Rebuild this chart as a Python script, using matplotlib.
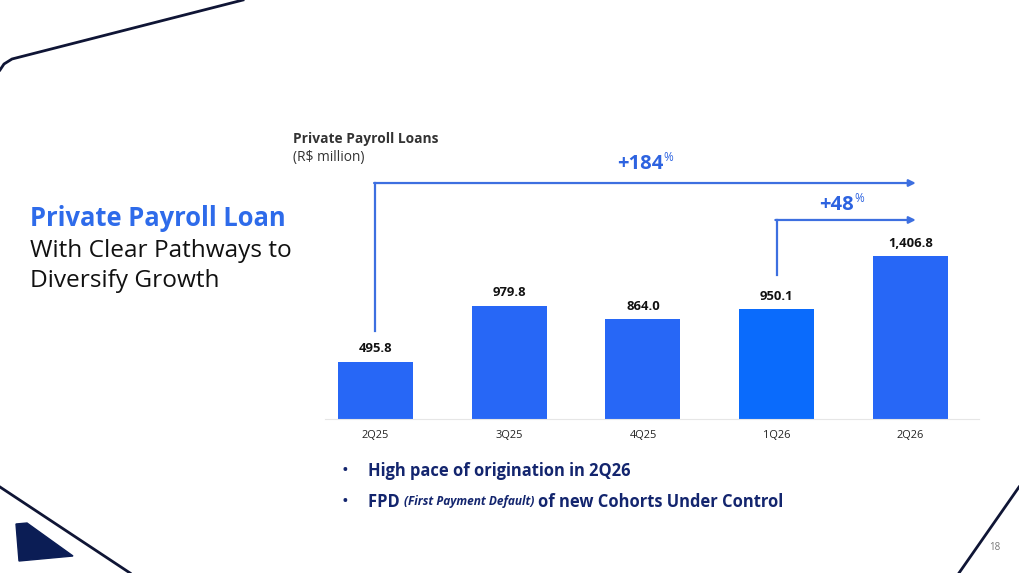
import matplotlib
matplotlib.use("Agg")
from matplotlib import pyplot as plt
from matplotlib.patches import Polygon

quarters = ["2Q25", "3Q25", "4Q25", "1Q26", "2Q26"]
loans = [495.8, 979.8, 864.0, 950.1, 1406.8]
labels = ["495.8", "979.8", "864.0", "950.1", "1,406.8"]
bar_colors = ["#2767F6", "#2767F6", "#2767F6", "#0A6BFC", "#2767F6"]

growth_labels = ["+184", "+48"]

blue = "#2D63E0"
navy = "#13256E"

plt.rcParams["font.family"] = ["Open Sans", "DejaVu Sans"]

fig = plt.figure(figsize=(10.19, 5.73), dpi=100)

# background layer in pixel coordinates for slide decorations
bg = fig.add_axes([0, 0, 1, 1])
bg.set_xlim(0, 1019)
bg.set_ylim(573, 0)
bg.axis("off")
bg.plot([0, 4, 12, 243], [70, 64, 59, 0], color="#0F1535", lw=2)
bg.plot([0, 130], [487, 573], color="#0F1535", lw=2)
bg.plot([1019, 959], [487, 573], color="#0F1535", lw=2)
bg.add_patch(Polygon([(16, 524), (27, 523), (73, 556), (19, 561)], closed=True,
                     color="#0B1D55"))
bg.text(995, 547, "18", fontsize=7, color="#777777", ha="center", va="center")

bg.text(30, 218, "Private Payroll Loan", fontsize=18.4, fontweight="bold",
        color="#2E6BEA", va="center")
bg.text(30, 251, "With Clear Pathways to", fontsize=17.6, color="#111111", va="center")
bg.text(30, 281, "Diversify Growth", fontsize=17.6, color="#111111", va="center")

bg.text(293, 139, "Private Payroll Loans", fontsize=9.9, fontweight="bold",
        color="#333333", va="center")
bg.text(293, 158, "(R$ million)", fontsize=9.9, color="#333333", va="center")

bg.text(345, 471, "\u2022", fontsize=13, color=navy, va="center", ha="center")
bg.text(368, 471, "High pace of origination in 2Q26", fontsize=11.9,
        fontweight="bold", color=navy, va="center")
bg.text(345, 502, "\u2022", fontsize=13, color=navy, va="center", ha="center")
t = bg.text(368, 502, "FPD ", fontsize=11.9, fontweight="bold", color=navy, va="center")
t2 = bg.annotate("(First Payment Default) ", xycoords=t, xy=(1, 0.5), va="center",
                 fontsize=8.6, fontweight="bold", fontstyle="italic", color=navy)
bg.annotate("of new Cohorts Under Control", xycoords=t2, xy=(1, 0.5), va="center",
            fontsize=11.9, fontweight="bold", color=navy)

# chart
ax = fig.add_axes([0.3028, 0.2688, 0.6563, 0.3225])
x = range(len(quarters))
ax.bar(x, loans, width=0.56, color=bar_colors)
ax.set_xlim(-0.5, 4.5)
ax.set_ylim(0, 1600)
for i, v in enumerate(loans):
    ax.text(i, v + 112, labels[i], ha="center", va="center", fontsize=9.4,
            fontweight="bold", color="#111111")
ax.set_xticks(list(x))
ax.set_xticklabels(quarters, fontsize=7.9, color="#222222")
ax.tick_params(axis="x", length=0, pad=8)
ax.set_yticks([])
for s in ["top", "right", "left"]:
    ax.spines[s].set_visible(False)
ax.spines["bottom"].set_color("#E6E6E6")
ax.spines["bottom"].set_bounds(-0.38, 4.51)

# growth arrows
arrow_color = "#3D6FE0"
ax.plot([0, 0], [762, 2043], color=arrow_color, lw=1.6, clip_on=False)
ax.annotate("", xy=(4.04, 2043), xytext=(-0.01, 2043), xycoords="data",
            arrowprops=dict(arrowstyle="-|>", color=arrow_color, lw=1.6,
                            mutation_scale=10, shrinkA=0, shrinkB=0),
            annotation_clip=False)
ax.plot([3, 3], [1247, 1723], color=arrow_color, lw=1.6, clip_on=False)
ax.annotate("", xy=(4.04, 1723), xytext=(2.99, 1723), xycoords="data",
            arrowprops=dict(arrowstyle="-|>", color=arrow_color, lw=1.6,
                            mutation_scale=10, shrinkA=0, shrinkB=0),
            annotation_clip=False)

g1 = ax.text(1.98, 2208, growth_labels[0], ha="center", va="center", fontsize=14.5,
             fontweight="bold", color=blue, clip_on=False)
ax.annotate("%", xycoords=g1, xy=(1.0, 0.5), va="bottom", fontsize=8.5,
            color=blue, annotation_clip=False)
g2 = ax.text(3.45, 1853, growth_labels[1], ha="center", va="center", fontsize=14.5,
             fontweight="bold", color=blue, clip_on=False)
ax.annotate("%", xycoords=g2, xy=(1.0, 0.5), va="bottom", fontsize=8.5,
            color=blue, annotation_clip=False)

fig.savefig("out.png", dpi=100)
